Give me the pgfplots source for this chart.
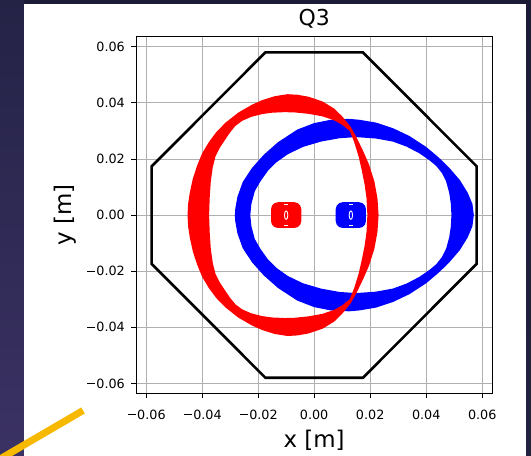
\documentclass[border=0pt]{standalone}
\usepackage{pgfplots}
\pgfplotsset{compat=1.18}
\usepackage{fontspec}
\setmainfont{DejaVu Sans}
\definecolor{bgtop}{HTML}{1C1C36}
\definecolor{bgbot}{HTML}{23223F}
\definecolor{lefttop}{HTML}{242346}
\definecolor{leftbot}{HTML}{3B3264}
\definecolor{ygold}{HTML}{F7B900}
\definecolor{gridgray}{HTML}{B0B0B0}
\newcommand{\mm}{\makebox[0.838em]{\rule[0.33em]{0.58em}{0.075em}}}
\begin{document}
\begin{tikzpicture}[x=1bp,y=1bp]
\clip (0,0) rectangle (531,456);
\shade[top color=bgtop, bottom color=bgbot] (0,0) rectangle (531,456);
\shade[top color=lefttop, bottom color=leftbot] (0,0) rectangle (24,456);
\fill[white] (24,0) rectangle (526,452);
\begin{axis}[
  at={(136bp,62.5bp)}, anchor=south west,
  width=356.3bp, height=356.8bp, scale only axis,
  xmin=-0.0636, xmax=0.0636, ymin=-0.0636, ymax=0.0636,
  scaled ticks=false,
  xtick={-0.06,-0.04,-0.02,0,0.02,0.04,0.06},
  ytick={-0.06,-0.04,-0.02,0,0.02,0.04,0.06},
  xticklabels={\mm0.06,\mm0.04,\mm0.02,0.00,0.02,0.04,0.06},
  yticklabels={\mm0.06,\mm0.04,\mm0.02,0.00,0.02,0.04,0.06},
  grid=major,
  major grid style={color=gridgray, line width=0.8bp},
  axis line style={black, line width=0.8bp},
  tick style={black, line width=0.8bp},
  major tick length=5bp, tick align=outside, tick pos=left,
  tick label style={font=\fontsize{12.8}{14}\selectfont},
  xticklabel style={anchor=north, inner sep=0pt, yshift=-11bp},
  yticklabel style={anchor=east, inner sep=0pt, xshift=-6bp},
  title={Q3},
  title style={at={(axis description cs:0.5,1.0132)}, anchor=base, font=\fontsize{22}{24}\selectfont},
  xlabel={x [m]}, ylabel={y [m]},
  xlabel style={at={(axis description cs:0.5,-0.152)}, anchor=base, font=\fontsize{23}{25}\selectfont},
  ylabel style={at={(axis description cs:-0.181,0.5)}, anchor=base, font=\fontsize{23}{25}\selectfont},
]
% blue band
\addplot[draw=none, fill=blue, even odd rule, unbounded coords=jump] coordinates {
(0.0570,0) (0.0565,0.0040) (0.0548,0.0080) (0.0520,0.0125) (0.0483,0.0168) (0.0445,0.0205) (0.0400,0.0243) (0.0340,0.0282) (0.0281,0.0310) (0.0220,0.0330) (0.0160,0.0340) (0.0124,0.0343) (0.0060,0.0340) (0.0000,0.0328) (-0.0060,0.0305) (-0.0129,0.0260) (-0.0180,0.0215) (-0.0222,0.0168) (-0.0255,0.0118) (-0.0274,0.0065) (-0.0282,0.0020) (-0.0283,0)
(-0.0282,-0.0020) (-0.0274,-0.0065) (-0.0255,-0.0118) (-0.0222,-0.0168) (-0.0180,-0.0215) (-0.0129,-0.0260) (-0.0060,-0.0305) (0.0000,-0.0328) (0.0060,-0.0340) (0.0124,-0.0343) (0.0160,-0.0340) (0.0220,-0.0330) (0.0281,-0.0310) (0.0340,-0.0282) (0.0400,-0.0243) (0.0445,-0.0205) (0.0483,-0.0168) (0.0520,-0.0125) (0.0548,-0.0080) (0.0565,-0.0040) (0.0570,0)
(nan,nan)
(0.0490,0) (0.0488,0.0040) (0.0482,0.0080) (0.0471,0.0120) (0.0456,0.0150) (0.0436,0.0175) (0.0412,0.0195) (0.0376,0.0220) (0.0330,0.0244) (0.0281,0.0262) (0.0220,0.0273) (0.0150,0.0278) (0.0090,0.0274) (0.0024,0.0262) (-0.0040,0.0243) (-0.0094,0.0217) (-0.0135,0.0188) (-0.0165,0.0158) (-0.0192,0.0120) (-0.0212,0.0085) (-0.0224,0.0040) (-0.0228,0)
(-0.0224,-0.0040) (-0.0212,-0.0085) (-0.0192,-0.0120) (-0.0165,-0.0158) (-0.0135,-0.0188) (-0.0094,-0.0217) (-0.0040,-0.0243) (0.0024,-0.0262) (0.0090,-0.0274) (0.0150,-0.0278) (0.0220,-0.0273) (0.0281,-0.0262) (0.0330,-0.0244) (0.0376,-0.0220) (0.0412,-0.0195) (0.0436,-0.0175) (0.0456,-0.0150) (0.0471,-0.0120) (0.0482,-0.0080) (0.0488,-0.0040) (0.0490,0)
};
% red band
\addplot[draw=none, fill=red, even odd rule, unbounded coords=jump] coordinates {
(0.0230,0) (0.0226,0.0060) (0.0215,0.0120) (0.0196,0.0180) (0.0176,0.0226) (0.0150,0.0280) (0.0130,0.0315) (0.0100,0.0352) (0.0071,0.0380) (0.0030,0.0405) (-0.0020,0.0422) (-0.0060,0.0429) (-0.0095,0.0431) (-0.0140,0.0424) (-0.0185,0.0410) (-0.0221,0.0394) (-0.0270,0.0366) (-0.0317,0.0329) (-0.0350,0.0295) (-0.0376,0.0260) (-0.0400,0.0220) (-0.0418,0.0176) (-0.0433,0.0130) (-0.0444,0.0080) (-0.0450,0.0040) (-0.0452,0)
(-0.0450,-0.0040) (-0.0444,-0.0080) (-0.0433,-0.0130) (-0.0418,-0.0176) (-0.0400,-0.0220) (-0.0376,-0.0260) (-0.0350,-0.0295) (-0.0317,-0.0329) (-0.0270,-0.0366) (-0.0221,-0.0394) (-0.0185,-0.0410) (-0.0140,-0.0424) (-0.0095,-0.0431) (-0.0060,-0.0429) (-0.0020,-0.0422) (0.0030,-0.0405) (0.0071,-0.0380) (0.0100,-0.0352) (0.0130,-0.0315) (0.0150,-0.0280) (0.0176,-0.0226) (0.0196,-0.0180) (0.0215,-0.0120) (0.0226,-0.0060) (0.0230,0)
(nan,nan)
(0.0190,0) (0.0187,0.0060) (0.0180,0.0110) (0.0170,0.0160) (0.0159,0.0208) (0.0143,0.0260) (0.0127,0.0300) (0.0100,0.0322) (0.0071,0.0338) (0.0030,0.0352) (-0.0020,0.0361) (-0.0070,0.0366) (-0.0105,0.0367) (-0.0150,0.0365) (-0.0186,0.0360) (-0.0225,0.0350) (-0.0257,0.0336) (-0.0281,0.0318) (-0.0300,0.0295) (-0.0317,0.0270) (-0.0337,0.0240) (-0.0352,0.0210) (-0.0362,0.0170) (-0.0369,0.0120) (-0.0373,0.0060) (-0.0375,0)
(-0.0373,-0.0060) (-0.0369,-0.0120) (-0.0362,-0.0170) (-0.0352,-0.0210) (-0.0337,-0.0240) (-0.0317,-0.0270) (-0.0300,-0.0295) (-0.0281,-0.0318) (-0.0257,-0.0336) (-0.0225,-0.0350) (-0.0186,-0.0360) (-0.0150,-0.0365) (-0.0105,-0.0367) (-0.0070,-0.0366) (-0.0020,-0.0361) (0.0030,-0.0352) (0.0071,-0.0338) (0.0100,-0.0322) (0.0127,-0.0300) (0.0143,-0.0260) (0.0159,-0.0208) (0.0170,-0.0160) (0.0180,-0.0110) (0.0187,-0.0060) (0.0190,0)
};
% small red core
\addplot[draw=none, fill=red] coordinates {
(-0.0046,0) (-0.0046,0.0021) (-0.00493,0.00335) (-0.00585,0.00427) (-0.0071,0.0046) (-0.0129,0.0046) (-0.01415,0.00427) (-0.01507,0.00335) (-0.0154,0.0021) (-0.0154,-0.0021) (-0.01507,-0.00335) (-0.01415,-0.00427) (-0.0129,-0.0046) (-0.0071,-0.0046) (-0.00585,-0.00427) (-0.00493,-0.00335) (-0.0046,-0.0021) (-0.0046,0)
};
% small blue core
\addplot[draw=none, fill=blue] coordinates {
(0.0185,0) (0.0185,0.0021) (0.01817,0.00335) (0.01725,0.00427) (0.0160,0.0046) (0.0102,0.0046) (0.00895,0.00427) (0.00803,0.00335) (0.0077,0.0021) (0.0077,-0.0021) (0.00803,-0.00335) (0.00895,-0.00427) (0.0102,-0.0046) (0.0160,-0.0046) (0.01725,-0.00427) (0.01817,-0.00335) (0.0185,-0.0021) (0.0185,0)
};
% white details inside the cores
\addplot[draw=white, line width=0.9bp] coordinates {
(-0.0094,0) (-0.00958,0.0011) (-0.0100,0.0015) (-0.01042,0.0011) (-0.0106,0) (-0.01042,-0.0011) (-0.0100,-0.0015) (-0.00958,-0.0011) (-0.0094,0)
};
\addplot[draw=white, line width=0.9bp] coordinates {
(0.0137,0) (0.01352,0.0011) (0.0131,0.0015) (0.01268,0.0011) (0.0125,0) (0.01268,-0.0011) (0.0131,-0.0015) (0.01352,-0.0011) (0.0137,0)
};
\addplot[draw=white, line width=0.7bp, unbounded coords=jump] coordinates {
(-0.0107,0.0037) (-0.0093,0.0037) (nan,nan) (-0.0107,-0.0036) (-0.0093,-0.0036)
(nan,nan) (0.0124,0.0037) (0.0138,0.0037) (nan,nan) (0.0124,-0.0036) (0.0138,-0.0036)
};
% octagonal aperture
\addplot[black, line width=2.6bp, line join=miter] coordinates {
(-0.0174,0.0580) (0.0174,0.0580) (0.0580,0.0174) (0.0580,-0.0174) (0.0174,-0.0580) (-0.0174,-0.0580) (-0.0580,-0.0174) (-0.0580,0.0174) (-0.0174,0.0580)
} -- cycle;
\end{axis}
\draw[line width=7bp, ygold] (0,-3) -- (83,45.5);
\end{tikzpicture}
\end{document}
